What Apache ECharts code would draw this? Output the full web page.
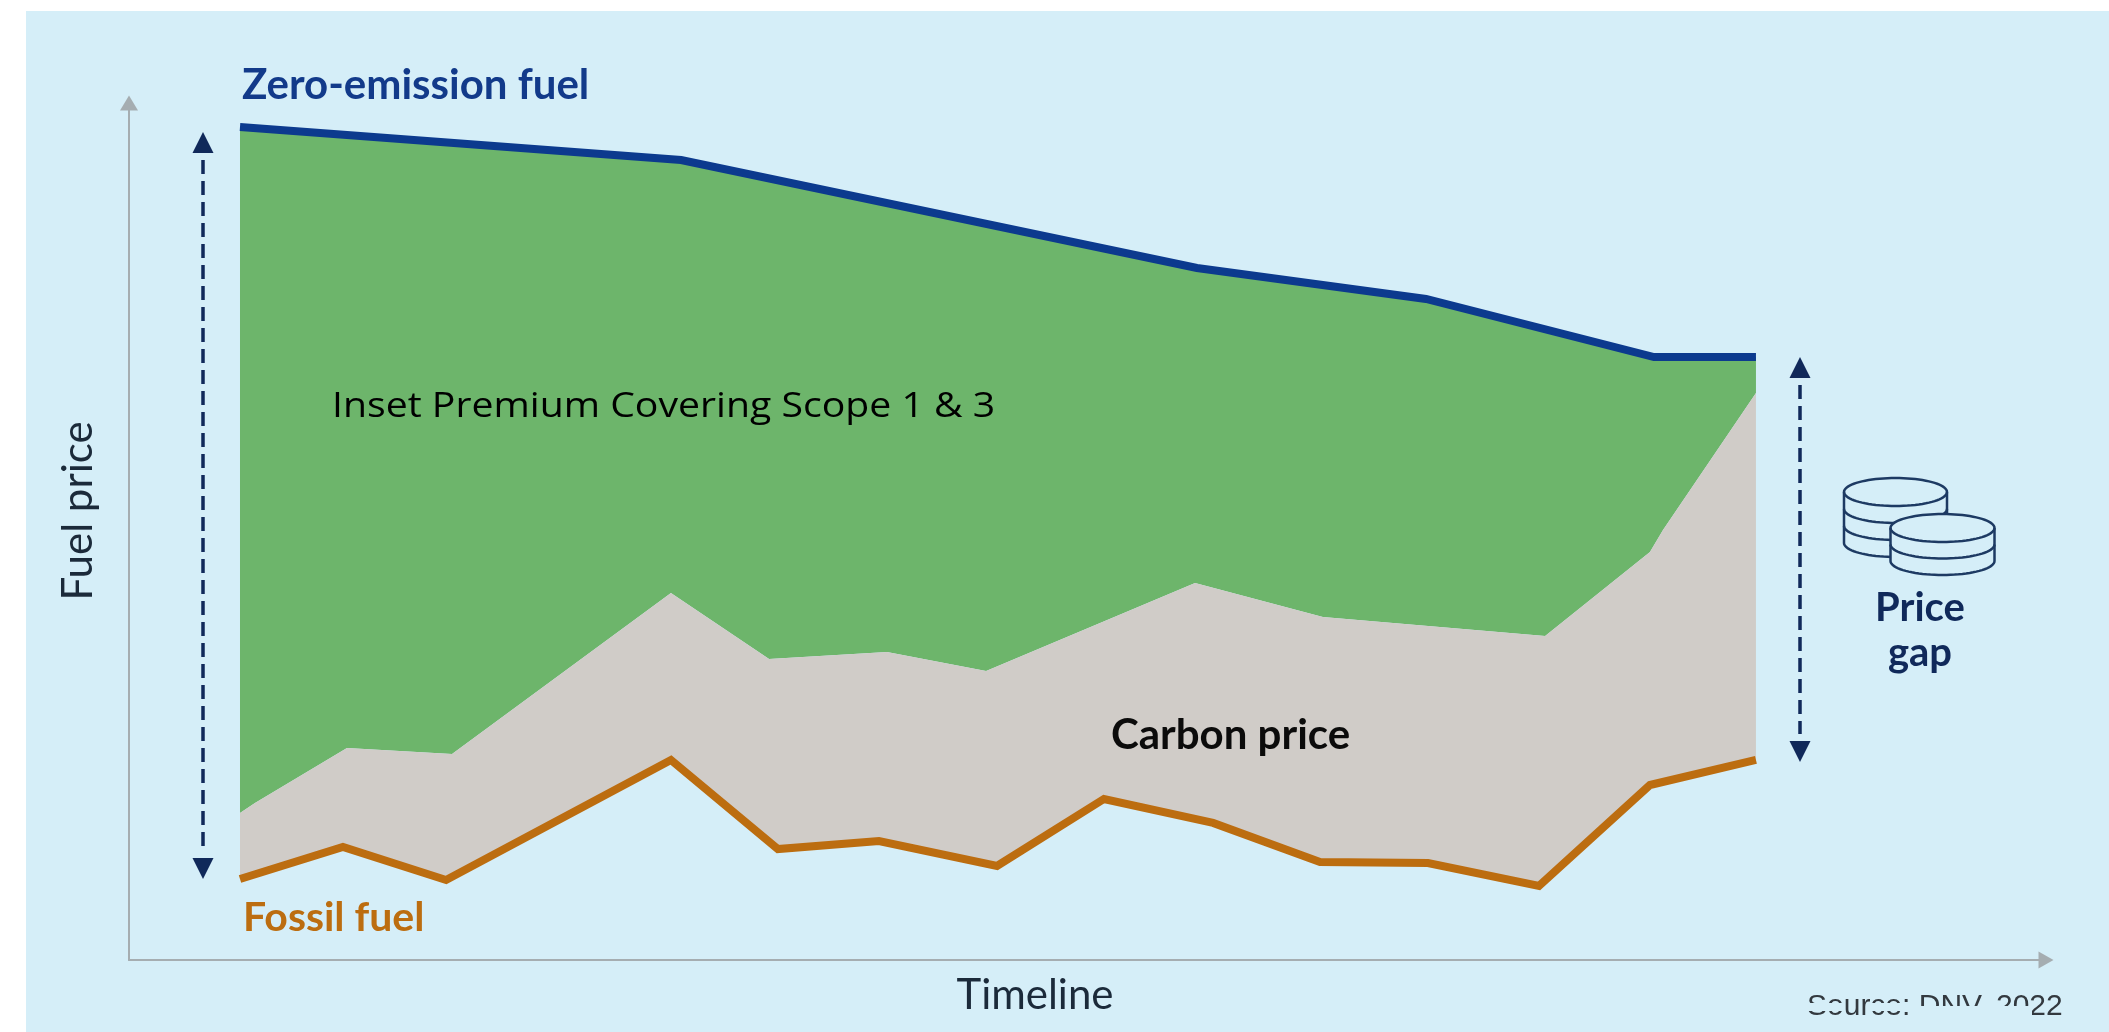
<!DOCTYPE html>
<html>
<head>
<meta charset="utf-8">
<style>
  html, body { margin: 0; padding: 0; background: #ffffff; }
  #chart { width: 2109px; height: 1032px; }
</style>
<script src="https://cdn.jsdelivr.net/npm/echarts@6/dist/echarts.min.js"></script>
</head>
<body>
<div id="chart"></div>
<script>
// Fuel price paths on an indexed 0-100 scale, as [timeline, price] pairs.
const zeroEmissionFuel = [[5.79, 97.2], [28.8, 93.35], [55.71, 80.75], [67.66, 77.13], [79.55, 70.36], [84.87, 70.36]];
const carbonPriceTop = [[5.79, 17.15], [6.57, 18.32], [11.37, 24.74], [16.85, 24.04], [28.27, 42.82], [33.39, 35.12], [39.54, 35.94], [44.71, 33.72], [55.61, 43.99], [62.28, 40.02], [73.87, 37.81], [79.34, 47.61], [80.02, 50.18], [84.87, 66.16]];
const fossilFuel = [[5.79, 9.45], [11.16, 13.19], [16.54, 9.33], [28.27, 23.34], [33.85, 12.95], [39.12, 13.89], [45.28, 10.97], [50.86, 18.79], [56.55, 15.99], [62.13, 11.44], [67.76, 11.32], [73.55, 8.63], [79.34, 20.42], [84.87, 23.34]];

const PANEL = '#d5eef8', NAVY = '#10295a', BLUE = '#0c3a8e', ORANGE = '#bc6d10';
const GREEN = '#6db56b', GREY = '#d0ccc8', AXIS = '#a5adb1', COIN = '#1d3a63', INK = '#1b2a3a';

// Filled band between an upper and a lower price path.
function band(name, upper, lower, color) {
  return {
    name, type: 'custom', coordinateSystem: 'cartesian2d', data: [0], silent: true, z: 2,
    renderItem(params, api) {
      const outline = upper.concat(lower.slice().reverse()).map(p => api.coord(p));
      return { type: 'polygon', shape: { points: outline }, style: { fill: color } };
    }
  };
}
function path(name, points, color) {
  return {
    name, type: 'line', data: points, showSymbol: false, silent: true, z: 3,
    lineStyle: { color, width: 8, cap: 'butt', join: 'miter' }
  };
}
function label(text, x, y, font, fill, align, extra) {
  return Object.assign({ type: 'text', z: 20, silent: true,
    style: { text, x, y, font, fill, align: align || 'left', verticalAlign: 'middle' } }, extra || {});
}
// Double-headed dashed arrow spanning tip-to-tip.
function gapArrow(x, top, bottom) {
  const head = 21, half = 10.5;
  return [
    { type: 'line', z: 20, silent: true,
      shape: { x1: x, y1: top + 28, x2: x, y2: bottom - 28 },
      style: { stroke: NAVY, lineWidth: 3.5, lineDash: [14, 7] } },
    { type: 'polygon', z: 20, silent: true,
      shape: { points: [[x, top], [x - half, top + head], [x + half, top + head]] }, style: { fill: NAVY } },
    { type: 'polygon', z: 20, silent: true,
      shape: { points: [[x, bottom], [x - half, bottom - head], [x + half, bottom - head]] }, style: { fill: NAVY } }
  ];
}
// Half an ellipse from the left edge round to the right edge; sign +1 is the lower half.
function halfEllipse(cx, cy, rx, ry, sign) {
  const pts = [];
  for (let i = 0; i <= 40; i++) {
    const a = Math.PI * i / 40;
    pts.push([cx - rx * Math.cos(a), cy + sign * ry * Math.sin(a)]);
  }
  return pts;
}
// Stack of coins: centre and radii of the top face, the step between layers, layers below the top.
function coin(cx, cy, rx, ry, step, layers) {
  const last = cy + step * layers;
  const stroke = { fill: 'none', stroke: COIN, lineWidth: 2.5 };
  const silhouette = halfEllipse(cx, cy, rx, ry, -1).concat(halfEllipse(cx, last, rx, ry, 1).reverse());
  const els = [{ type: 'polygon', z: 20, silent: true, shape: { points: silhouette },
    style: { fill: PANEL, stroke: COIN, lineWidth: 2.5 } }];
  for (let i = 0; i < layers; i++) {
    els.push({ type: 'polyline', z: 20, silent: true,
      shape: { points: halfEllipse(cx, cy + step * i, rx, ry, 1) }, style: stroke });
  }
  return els;
}
// Panel-coloured strip laid over part of the source line.
function strip(x, y, width, height) {
  return { type: 'rect', z: 21, silent: true, shape: { x, y, width, height }, style: { fill: PANEL } };
}

const chart = echarts.init(document.getElementById('chart'), null, { renderer: 'canvas' });
chart.setOption({
  animation: false,
  backgroundColor: '#ffffff',
  grid: { left: 129, top: 103, right: 63, bottom: 72, outerBoundsMode: 'none' },
  xAxis: {
    type: 'value', min: 0, max: 100, z: 5, splitLine: { show: false }, axisTick: { show: false }, axisLabel: { show: false },
    axisLine: { onZero: false, symbol: ['none', 'triangle'], symbolSize: [17, 15], lineStyle: { color: AXIS, width: 2 } }
  },
  yAxis: {
    type: 'value', min: 0, max: 100, z: 5, splitLine: { show: false }, axisTick: { show: false }, axisLabel: { show: false },
    axisLine: { onZero: false, symbol: ['none', 'triangle'], symbolSize: [18, 15], lineStyle: { color: AXIS, width: 2 } }
  },
  series: [
    band('Inset premium', zeroEmissionFuel, carbonPriceTop, GREEN),
    band('Carbon price', carbonPriceTop, fossilFuel, GREY),
    path('Zero-emission fuel', zeroEmissionFuel, BLUE),
    path('Fossil fuel', fossilFuel, ORANGE)
  ],
  graphic: { elements: [
    { type: 'rect', z: -10, silent: true, shape: { x: 26, y: 11, width: 2083, height: 1021 }, style: { fill: PANEL } },
    label('Zero-emission fuel', 242, 85, '700 42px Lato', '#123a8a'),
    label('Fossil fuel', 243, 918, '700 41px Lato', ORANGE),
    label('Carbon price', 1111, 735, '700 42px Lato', '#0b0b0b'),
    label('Inset Premium Covering Scope 1 & 3', 0, 407, '500 35px "Open Sans"', '#000000', 'left', { x: 332, scaleX: 1.12 }),
    label('Price', 1920, 608, '700 40px Lato', NAVY, 'center'),
    label('gap', 1920, 653, '700 40px Lato', NAVY, 'center'),
    label('Timeline', 1035, 995, '400 42px Lato', INK, 'center'),
    label('Fuel price', 0, 0, '400 42px Lato', INK, 'center', { x: 78, y: 511, rotation: Math.PI / 2 }),
    ...gapArrow(203, 132, 879),
    ...gapArrow(1800, 357, 762),
    ...coin(1895.5, 492, 51.5, 14, 17, 3),
    ...coin(1942.5, 528, 52, 14, 16.5, 2),
    label('Source: DNV, 2022', 1807, 1007, '400 30px "Liberation Sans"', '#33393f'),
    strip(1804, 1003, 39, 8),
    strip(1867, 1003, 48, 8),
    strip(1915, 1006, 117, 14)
  ] }
});
</script>
</body>
</html>
